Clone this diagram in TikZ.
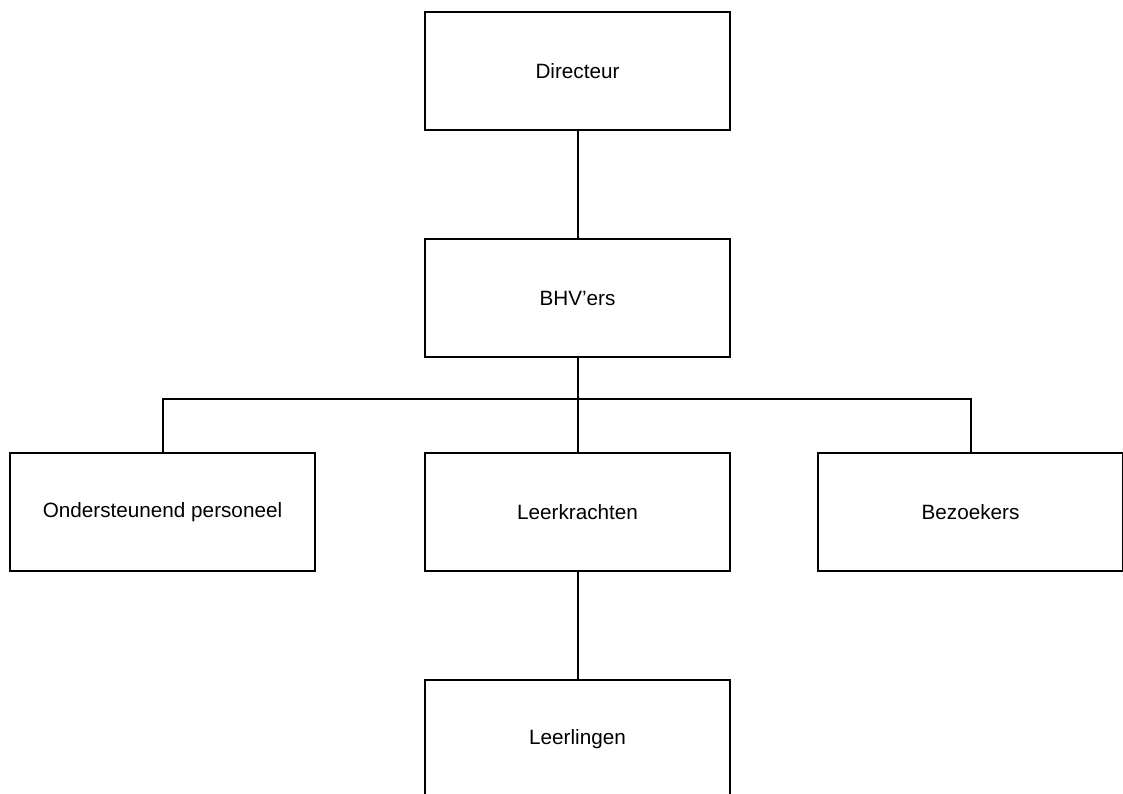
\documentclass[tikz,border=0pt]{standalone}
\usepackage{fontspec}
\setmainfont{Liberation Sans}
\begin{document}
\begin{tikzpicture}[x=1pt,y=-1pt,
  box/.style={draw=black,line width=2pt,fill=white,minimum width=305pt,minimum height=118pt,inner sep=0pt,font=\fontsize{20.7}{24}\selectfont,text=black},
  conn/.style={draw=black,line width=2pt}]
\useasboundingbox (0,0) rectangle (1123,794);
\node[box] (dir) at (577.5,71) {Directeur};
\node[box] (bhv) at (577.5,298) {BHV’ers};
\node[box] (ond) at (162.5,512) {Ondersteunend personeel};
\node[box] (lk) at (577.5,512) {Leerkrachten};
\node[box] (bez) at (970.5,512) {Bezoekers};
\node[box] (ll) at (577.5,739) {Leerlingen};
\coordinate (bar) at (577.5,399);
\draw[conn] (dir.south) -- (bhv.north);
\draw[conn] (bhv.south) -- (lk.north);
\draw[conn] (ond.north) |- (bar) -| (bez.north);
\draw[conn] (lk.south) -- (ll.north);
\end{tikzpicture}
\end{document}
